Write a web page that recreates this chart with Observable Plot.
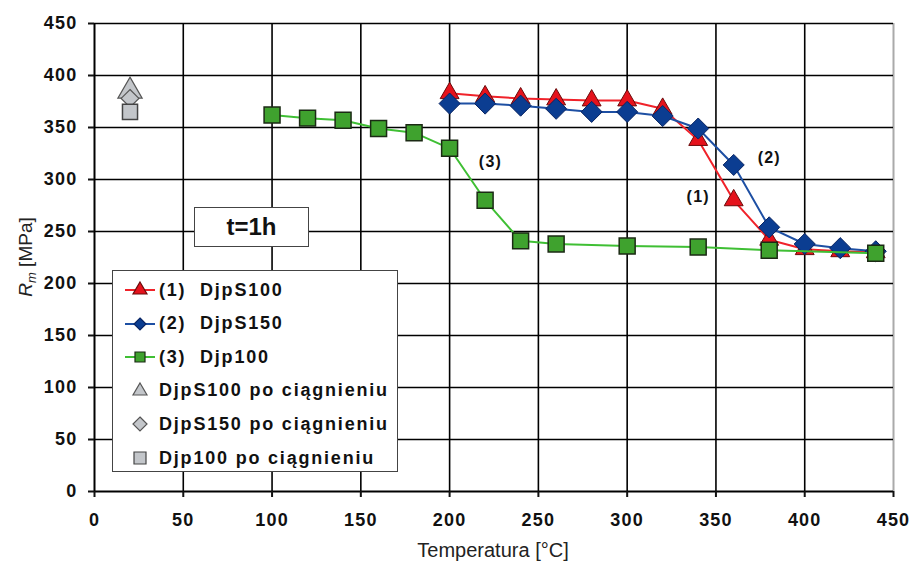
<!DOCTYPE html>
<html>
<head>
<meta charset="utf-8">
<script src="https://cdn.jsdelivr.net/npm/d3@7"></script>
<script src="https://cdn.jsdelivr.net/npm/@observablehq/plot@0.6"></script>
<style>
  html, body { margin: 0; padding: 0; background: #fff; }
  body { font-family: "Liberation Sans", Arial, sans-serif; }
  #wrap { position: relative; width: 914px; height: 562px; overflow: hidden; }
  #wrap svg text { letter-spacing: 1.2px; }
  .box { position: absolute; background: #fff; border: 1.5px solid #444; box-sizing: border-box; }
  .legrow { position: absolute; left: 10px; height: 24px; display: flex; align-items: center;
            font-weight: bold; font-size: 18px; letter-spacing: 1.8px; color: #111; white-space: nowrap; }
  .legrow svg { flex: none; }
</style>
</head>
<body>
<div id="wrap"></div>
<script>
// ---- data ----
const xTicks = [0, 50, 100, 150, 200, 250, 300, 350, 400, 450];
const yTicks = [0, 50, 100, 150, 200, 250, 300, 350, 400, 450];

const tempS = [200, 220, 240, 260, 280, 300, 320, 340, 360, 380, 400, 420, 440];
const djpS100 = [383, 380, 378, 377, 376, 376, 368, 338, 280, 242, 233, 231, 230];
const djpS150 = [373, 373, 371, 368, 365, 365, 361, 349, 314, 254, 238, 234, 231];

const tempP = [100, 120, 140, 160, 180, 200, 220, 240, 260, 300, 340, 380, 440];
const djp100 = [362, 359, 357, 349, 345, 330, 280, 241, 238, 236, 235, 232, 229];

const drawnTemp = 20;
const drawnS100 = 385;
const drawnS150 = 378;
const drawn100 = 365;

const seriesLabels = ["(1)  DjpS100", "(2)  DjpS150", "(3)  Djp100",
  "DjpS100 po ciągnieniu", "DjpS150 po ciągnieniu", "Djp100 po ciągnieniu"];

const notes = [
  {x: 223, y: 317, t: "(3)"},
  {x: 380, y: 321, t: "(2)"},
  {x: 340, y: 283, t: "(1)"}
];

// ---- build ----
const s1 = tempS.map((x, i) => ({x, y: djpS100[i]}));
const s2 = tempS.map((x, i) => ({x, y: djpS150[i]}));
const s3 = tempP.map((x, i) => ({x, y: djp100[i]}));
const drawnTri = [{x: drawnTemp, y: drawnS100}];
const drawnDia = [{x: drawnTemp, y: drawnS150}];
const drawnSq = [{x: drawnTemp, y: drawn100}];

const RED = "#e5121c", RED_LINE = "#f0222a";
const BLUE = "#0b3d91", BLUE_LINE = "#1d4fa3";
const GREEN = "#3fa22e", GREEN_LINE = "#3fbf34";
const GRAY = "#c3c6ca";

const chart = Plot.plot({
  width: 914,
  height: 562,
  marginLeft: 94,
  marginRight: 21,
  marginTop: 23,
  marginBottom: 71,
  style: {fontFamily: "'Liberation Sans', Arial, sans-serif", color: "#111", background: "#fff"},
  x: {domain: [0, 450], label: null},
  y: {domain: [0, 450], label: null},
  marks: [
    Plot.ruleX(xTicks.filter(d => d > 0 && d < 450), {stroke: "#000", strokeWidth: 1.6}),
    Plot.ruleX([450], {stroke: "#aaa", strokeWidth: 2}),
    Plot.ruleY(yTicks.filter(d => d > 0), {stroke: "#000", strokeWidth: 1.6}),
    Plot.ruleX([0], {stroke: "#000", strokeWidth: 2}),
    Plot.ruleY([0], {stroke: "#000", strokeWidth: 2}),
    Plot.axisX(xTicks, {tickSize: 6, tickPadding: 16, strokeWidth: 2, fontSize: 18, fontWeight: "bold", label: null}),
    Plot.axisY(yTicks, {tickSize: 6, tickPadding: 11, strokeWidth: 2, fontSize: 18, fontWeight: "bold", label: null}),
    // series 1
    Plot.line(s1, {x: "x", y: "y", stroke: RED_LINE, strokeWidth: 2}),
    // series 2
    Plot.line(s2, {x: "x", y: "y", stroke: BLUE_LINE, strokeWidth: 2}),
    Plot.dot(s1, {x: "x", y: "y", symbol: "triangle", r: 7, fill: RED, stroke: "#6a0a0a", strokeWidth: 1}),
    Plot.dot(s2, {x: "x", y: "y", symbol: "diamond2", r: 9.5, fill: BLUE, stroke: "#0a2563", strokeWidth: 1}),
    // series 3
    Plot.line(s3, {x: "x", y: "y", stroke: GREEN_LINE, strokeWidth: 2}),
    Plot.dot(s3, {x: "x", y: "y", symbol: "square", r: 9, fill: GREEN, stroke: "#1b2a14", strokeWidth: 1.5}),
    // after drawing
    Plot.dot(drawnTri, {x: "x", y: "y", symbol: "triangle", r: 9, fill: GRAY, stroke: "#555", strokeWidth: 1.2}),
    Plot.dot(drawnDia, {x: "x", y: "y", symbol: "diamond2", r: 8, fill: GRAY, stroke: "#555", strokeWidth: 1.2}),
    Plot.dot(drawnSq, {x: "x", y: "y", symbol: "square", r: 8.5, fill: GRAY, stroke: "#444", strokeWidth: 1.5}),
    // annotations
    Plot.text(notes, {x: "x", y: "y", text: "t", fontSize: 16, fontWeight: "bold", fill: "#111"})
  ]
});

const wrap = document.getElementById("wrap");
wrap.appendChild(chart);

// axis titles
const svg = d3.select(chart);
svg.append("text")
  .attr("x", 493).attr("y", 557)
  .attr("text-anchor", "middle")
  .attr("font-size", 20).attr("fill", "#222").style("letter-spacing", "0px")
  .text("Temperatura [°C]");

const yl = svg.append("text")
  .attr("transform", "translate(32,257) rotate(-90)")
  .attr("text-anchor", "middle")
  .attr("font-size", 19).attr("fill", "#222").style("letter-spacing", "0px");
yl.append("tspan").attr("font-style", "italic").text("R");
yl.append("tspan").attr("font-style", "italic").attr("font-size", 13).attr("dy", 4).text("m");
yl.append("tspan").attr("dy", -4).text(" [MPa]");

// t=1h box
const tbox = document.createElement("div");
tbox.className = "box";
Object.assign(tbox.style, {left: "194px", top: "207px", width: "115px", height: "40px",
  display: "flex", alignItems: "center", justifyContent: "center",
  fontWeight: "bold", fontSize: "24px", color: "#111"});
tbox.textContent = "t=1h";
wrap.appendChild(tbox);

// legend
const leg = document.createElement("div");
leg.className = "box";
Object.assign(leg.style, {left: "112px", top: "270px", width: "286px", height: "202px"});
wrap.appendChild(leg);

function symbolSvg(kind, fill, stroke, line) {
  const ns = "http://www.w3.org/2000/svg";
  const s = document.createElementNS(ns, "svg");
  s.setAttribute("width", 36); s.setAttribute("height", 24);
  if (line) {
    const l = document.createElementNS(ns, "line");
    l.setAttribute("x1", 2); l.setAttribute("x2", 32); l.setAttribute("y1", 12); l.setAttribute("y2", 12);
    l.setAttribute("stroke", line); l.setAttribute("stroke-width", 2);
    s.appendChild(l);
  }
  const p = document.createElementNS(ns, "path");
  let d;
  if (kind === "tri") d = "M17,4 L24,16 L10,16 Z";
  else if (kind === "dia") d = "M17,5 L24,12 L17,19 L10,12 Z";
  else d = "M11,6 L23,6 L23,18 L11,18 Z";
  if (line && kind === "dia") d = "M17,6 L23,12 L17,18 L11,12 Z";
  if (line && kind === "sq") d = "M12,7 L22,7 L22,17 L12,17 Z";
  p.setAttribute("d", d);
  p.setAttribute("fill", fill); p.setAttribute("stroke", stroke); p.setAttribute("stroke-width", 1.2);
  s.appendChild(p);
  return s;
}

const legItems = [
  {k: "tri", fill: RED, stroke: "#6a0a0a", line: RED_LINE},
  {k: "dia", fill: BLUE, stroke: "#0a2563", line: BLUE_LINE},
  {k: "sq", fill: GREEN, stroke: "#1b2a14", line: GREEN_LINE},
  {k: "tri", fill: GRAY, stroke: "#555", line: null},
  {k: "dia", fill: GRAY, stroke: "#555", line: null},
  {k: "sq", fill: GRAY, stroke: "#444", line: null}
];
legItems.forEach((it, i) => {
  const row = document.createElement("div");
  row.className = "legrow";
  row.style.top = (7 + i * 33.6) + "px";
  row.appendChild(symbolSvg(it.k, it.fill, it.stroke, it.line));
  const span = document.createElement("span");
  span.style.whiteSpace = "pre";
  span.textContent = seriesLabels[i];
  row.appendChild(span);
  leg.appendChild(row);
});
</script>
</body>
</html>
